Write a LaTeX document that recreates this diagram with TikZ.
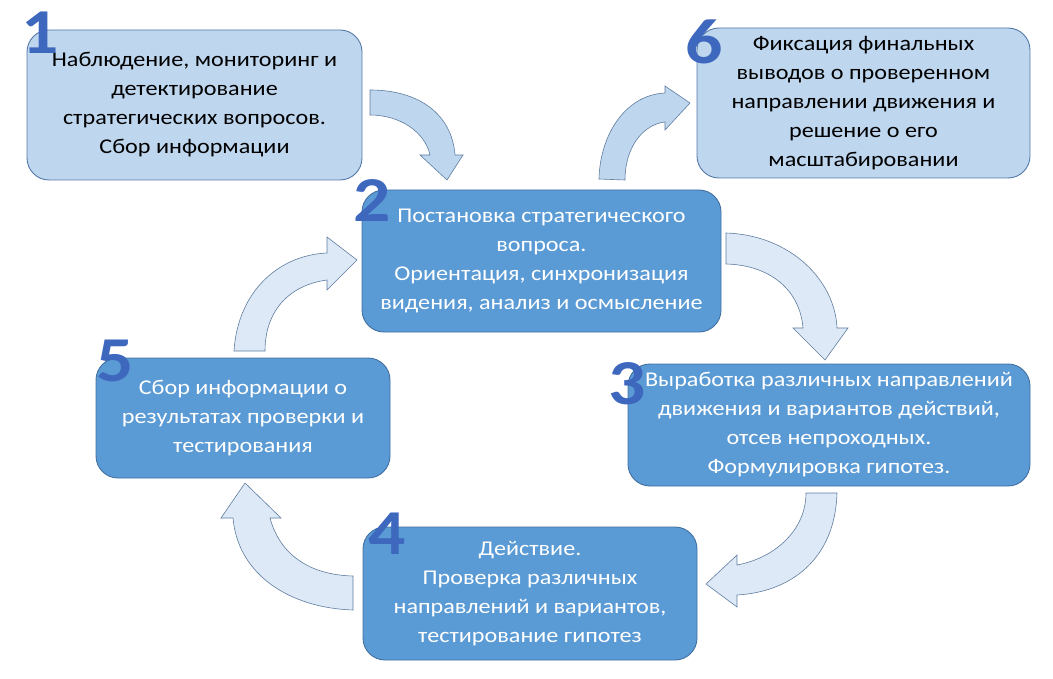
\documentclass[tikz,border=0pt]{standalone}
\usepackage{fontspec}
\setmainfont{Carlito}[FakeStretch=1.15]
\usetikzlibrary{calc}
\definecolor{lightfill}{RGB}{190,214,238}
\definecolor{lightdraw}{RGB}{84,122,168}
\definecolor{midfill}{RGB}{91,155,213}
\definecolor{middraw}{RGB}{66,112,160}
\definecolor{arrowA}{RGB}{190,214,238}
\definecolor{arrowB}{RGB}{221,233,246}
\definecolor{arrowdraw}{RGB}{95,125,160}
\definecolor{numblue}{RGB}{62,104,190}
\tikzset{
  box/.style={rectangle, rounded corners=22pt, line width=0.9pt, align=center,
    font=\fontsize{21}{29}\selectfont, inner sep=0pt},
  lightbox/.style={box, fill=lightfill, draw=lightdraw, text=black},
  midbox/.style={box, fill=midfill, draw=middraw, text=white},
  numtext/.style={font=\fontsize{64}{64}\selectfont\bfseries, text=numblue, inner sep=0pt},
  barrowA/.style={fill=arrowA, draw=arrowdraw, line width=0.6pt, line join=miter},
  barrowB/.style={fill=arrowB, draw=arrowdraw, line width=0.6pt, line join=miter}
}
\begin{document}
\begin{tikzpicture}[x=1pt,y=-1pt]
\useasboundingbox (0,0) rectangle (1053,679);

% boxes
\node[lightbox, minimum width=335pt, minimum height=150pt] (b1) at (194.5,105)
  {Наблюдение, мониторинг и\\детектирование\\стратегических вопросов.\\Сбор информации};
\node[midbox, minimum width=359pt, minimum height=142pt] (b2) at (541.5,261)
  {Постановка стратегического\\вопроса.\\Ориентация, синхронизация\\видения, анализ и осмысление};
\node[lightbox, minimum width=333pt, minimum height=150pt] (b6) at (863.5,103)
  {Фиксация финальных\\выводов о проверенном\\направлении движения и\\решение о его\\масштабировании};
\node[midbox, minimum width=402pt, minimum height=122pt] (b3) at (829,425)
  {Выработка различных направлений\\движения и вариантов действий,\\отсев непроходных.\\Формулировка гипотез.};
\node[midbox, minimum width=334pt, minimum height=133pt] (b4) at (530,593.5)
  {Действие.\\Проверка различных\\направлений и вариантов,\\тестирование гипотез};
\node[midbox, minimum width=294pt, minimum height=120pt] (b5) at (243,418)
  {Сбор информации о\\результатах проверки и\\тестирования};

% numbers
\foreach \n/\px/\py in {1/40/33, 2/372/201, 6/704/42, 3/627/384, 4/387/534, 5/115/361} {
  \node[numtext] (n\n) at (\px,\py) {\n};
}

% curved block arrows
% 1 -> 2
\draw[barrowA] (370,90) .. controls (420,90) and (452,115) .. (455,155)
  -- (463,155) -- (447,180) -- (420,155) -- (430,155)
  .. controls (425,132) and (400,115) .. (370,115) -- cycle;
% 2 -> 6
\draw[barrowA] (599,179) .. controls (600,135) and (625,95) .. (665,93)
  -- (665,86) -- (690,103) -- (665,130) -- (665,122)
  .. controls (645,124) and (625,145) .. (625,180) -- cycle;
% 2 -> 3
\draw[barrowB] (726,233) .. controls (790,235) and (835,280) .. (837,328)
  -- (848,328) -- (825,360) -- (793,328) -- (803,328)
  .. controls (800,290) and (770,265) .. (726,264) -- cycle;
% 3 -> 4
\draw[barrowB] (837,493) .. controls (835,560) and (790,592) .. (737,595)
  -- (737,607) -- (706,584) -- (737,555) -- (737,565)
  .. controls (775,558) and (806,530) .. (806,493) -- cycle;
% 4 -> 5
\draw[barrowB] (353,610) .. controls (290,608) and (238,575) .. (233,518)
  -- (221,518) -- (245,483) -- (281,518) -- (270,518)
  .. controls (280,555) and (310,575) .. (353,576) -- cycle;
% 5 -> 2
\draw[barrowB] (234,351) .. controls (238,290) and (280,255) .. (327,253)
  -- (327,237) -- (357,260) -- (327,290) -- (327,280)
  .. controls (290,285) and (265,310) .. (265,351) -- cycle;
\end{tikzpicture}
\end{document}
